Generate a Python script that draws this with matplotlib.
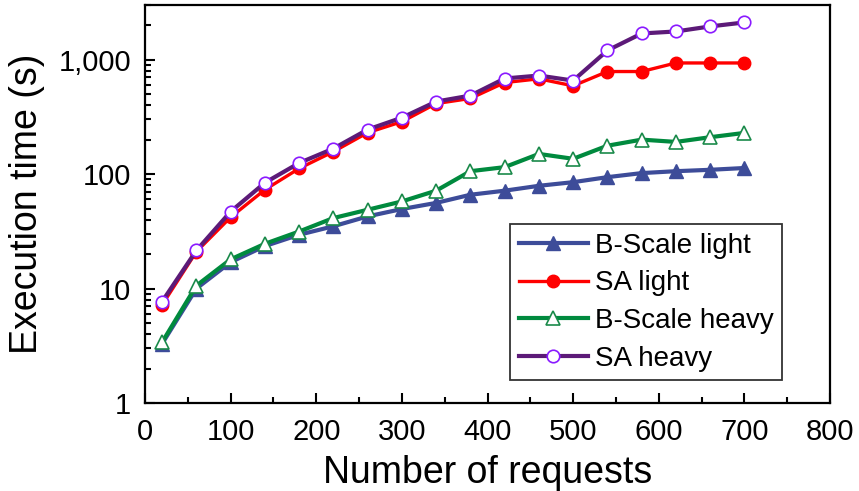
import matplotlib.pyplot as plt
from matplotlib.ticker import FuncFormatter, LogLocator, MultipleLocator, NullFormatter

plt.rcParams['font.family'] = ['Liberation Sans', 'DejaVu Sans']

requests = [20, 60, 100, 140, 180, 220, 260, 300, 340, 380, 420, 460, 500, 540, 580, 620, 660, 700]
bscale_light = [3.3, 10, 17, 23.5, 29.5, 35, 42.7, 49.5, 56, 66, 71.6, 79, 85, 94, 102, 106, 109, 113]
sa_light = [7.2, 21, 42, 73, 112, 157, 230, 287, 413, 458, 630, 680, 590, 787, 787, 935, 935, 935]
bscale_heavy = [3.4, 10.6, 18, 24.6, 31.5, 41.3, 48.8, 57.7, 71.6, 106, 115, 150, 136, 177, 200, 191, 210, 229]
sa_heavy = [7.7, 21.5, 47, 84, 125, 167, 245, 311, 430, 485, 684, 726, 656, 1202, 1692, 1762, 1950, 2113]

fig = plt.figure(figsize=(8.59, 4.91), dpi=100)
ax = fig.add_axes([0.1688, 0.1792, 0.7975, 0.8106])

ax.plot(requests, bscale_light, color='#3d4c99', lw=3, marker='^', ms=10,
        mfc='#3d4c99', mec='#3d4c99', label='B-Scale light')
ax.plot(requests, sa_light, color='#ff0000', lw=2.4, marker='o', ms=9,
        mfc='#ff0000', mec='#ff0000', label='SA light')
ax.plot(requests, bscale_heavy, color='#008a3e', lw=3, marker='^', ms=10.5,
        mfc='white', mec='#1a8a4a', mew=1.2, label='B-Scale heavy')
ax.plot(requests, sa_heavy, color='#5c1a78', lw=3, marker='o', ms=9,
        mfc='white', mec='#8a1aff', mew=1.2, label='SA heavy')

ax.set_yscale('log')
ax.set_xlim(0, 800)
ax.set_ylim(1, 3000)
ax.xaxis.set_major_locator(MultipleLocator(100))
ax.xaxis.set_minor_locator(MultipleLocator(50))
ax.yaxis.set_major_locator(LogLocator(base=10, numticks=10))
ax.yaxis.set_minor_locator(LogLocator(base=10, subs=range(2, 10), numticks=20))
ax.yaxis.set_major_formatter(FuncFormatter(lambda v, p: f'{v:,.0f}'))
ax.yaxis.set_minor_formatter(NullFormatter())

ax.tick_params(which='both', direction='in', width=1.5, labelsize=21, top=False, right=False)
ax.tick_params(which='major', length=7.5)
ax.tick_params(which='minor', length=4.5)
ax.tick_params(axis='x', pad=11)
ax.tick_params(axis='y', pad=10)
for s in ax.spines.values():
    s.set_linewidth(1.6)

ax.set_xlabel('Number of requests', fontsize=27, labelpad=6)
ax.set_ylabel('Execution time (s)', fontsize=27, labelpad=10)

leg = ax.legend(loc='lower right', bbox_to_anchor=(0.930, 0.058), fontsize=20,
                frameon=True, fancybox=False, edgecolor='black', handlelength=2.5,
                handletextpad=0.25, labelspacing=0.42, borderpad=0.3, borderaxespad=0)
leg.get_frame().set_linewidth(1.3)

fig.savefig('out.png', dpi=100)
